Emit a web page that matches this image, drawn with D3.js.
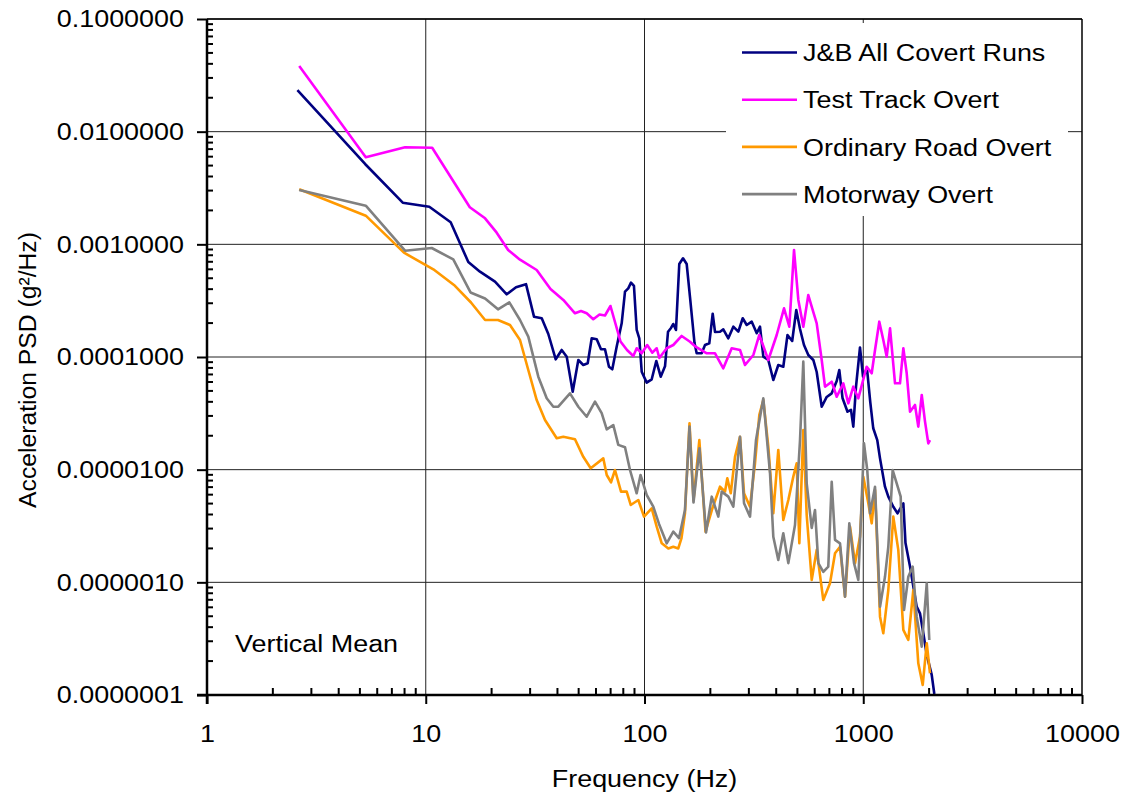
<!DOCTYPE html>
<html><head><meta charset="utf-8">
<script src="https://cdn.jsdelivr.net/npm/d3@7"></script>
<style>html,body{margin:0;padding:0;background:#fff;}svg{display:block;font-family:"Liberation Sans",Arial,sans-serif;}</style>
</head><body><svg id="c" width="1124" height="796"></svg>
<script>
const seriesNames = ["J&B All Covert Runs","Test Track Overt","Ordinary Road Overt","Motorway Overt"];
const seriesColors = ["#000080","#FF00FF","#FF9900","#808080"];
const yTickValues = [1e-7,1e-6,1e-5,1e-4,1e-3,1e-2,1e-1];
const xTickValues = [1,10,100,1000,10000];
const xLabel = "Frequency (Hz)";
const yLabel = "Acceleration PSD (g²/Hz)";
const note = "Vertical Mean";

const jbCovert = [[2.59,0.02343],[5.28,0.005165],[7.85,0.002342],[10.38,0.002158],[13.0,0.001569],[15.65,0.000697],[17.7,0.000572],[20.73,0.000466],[23.45,0.00036],[25.86,0.000416],[28.73,0.000443],[31.25,0.000228],[33.9,0.000221],[36.33,0.00016],[39.28,0.0000954],[41.83,0.0001154],[44.1,0.0001006],[46.97,0.0000492],[49.83,0.0000941],[52.5,0.0000849],[55.0,0.0000879],[57.37,0.0001466],[60.47,0.0001436],[63.25,0.000117],[65.97,0.000117],[68.8,0.000082],[71.25,0.0000778],[74.6,0.0001235],[78.65,0.000199],[81.45,0.00038],[84.3,0.000407],[86.75,0.000457],[89.5,0.000427],[92.1,0.0001737],[94.67,0.0001466],[97.1,0.0000741],[102.35,0.0000592],[107.9,0.0000634],[113.2,0.0000922],[118.6,0.0000669],[124.1,0.0000827],[128.1,0.0001677],[132.2,0.000181],[135.4,0.0001963],[139.3,0.0001737],[144.2,0.000669],[150.0,0.000752],[155.9,0.000669],[161.4,0.000341],[169.3,0.0001331],[173.2,0.0001079],[182.6,0.0001079],[189.1,0.0001278],[197.8,0.0001323],[205.0,0.000242],[210.1,0.0001667],[221.4,0.0001677],[229.2,0.000176],[241.6,0.0001466],[254.7,0.0001858],[268.5,0.0001677],[281.2,0.0002207],[293.3,0.0001924],[309.2,0.0002058],[325.9,0.0001624],[337.3,0.0001858],[349.3,0.0001006],[368.1,0.0000941],[388.0,0.0000625],[408.9,0.0000849],[431.0,0.000082],[450.5,0.0001568],[473.3,0.0001387],[494.1,0.0002614],[514.0,0.0001772],[535.9,0.0001278],[560.8,0.0001042],[591.1,0.0000941],[612.6,0.0000736],[645.8,0.0000362],[680.7,0.0000442],[717.5,0.0000476],[756.3,0.0000612],[777.2,0.0000767],[803.8,0.0000433],[847.3,0.0000327],[879.0,0.0000339],[900.6,0.0000241],[926.6,0.0000545],[966.3,0.0001215],[997.5,0.0000669],[1040,0.0000794],[1077,0.0000395],[1111,0.0000233],[1159,0.0000183],[1193,0.0000126],[1257,0.00000706],[1302,0.00000576],[1372,0.00000469],[1434,0.0000041],[1525,0.00000503],[1560,0.00000223],[1636,0.00000138],[1755,0.000000608],[1817,0.000000531],[1882,0.000000353],[1951,0.000000227],[2056,0.000000151],[2113,0.000000102]];

const testTrack = [[2.64,0.0383],[5.32,0.005923],[8.04,0.007265],[10.7,0.007205],[15.9,0.002132],[18.67,0.001702],[21.1,0.001269],[23.8,0.000891],[26.97,0.000731],[32.15,0.000592],[37.18,0.000401],[42.55,0.000321],[48.11,0.0002443],[51.25,0.000256],[54.43,0.0002443],[58.32,0.0002162],[62.27,0.0002384],[65.97,0.0002335],[69.9,0.0002836],[73.3,0.0002045],[77.67,0.0001373],[83.2,0.0001154],[88.9,0.0001021],[92.1,0.0001195],[97.1,0.0001079],[102.9,0.0001278],[108.6,0.0001092],[113.7,0.0001195],[116.9,0.000098],[126.3,0.0001195],[135.4,0.0001278],[147.9,0.0001537],[161.4,0.0001367],[171.9,0.0001227],[192.5,0.0001079],[210.1,0.0001079],[229.2,0.0000794],[250.4,0.0001195],[273.3,0.0001154],[288.1,0.0000849],[314.6,0.0001042],[334.9,0.0001568],[368.1,0.0000941],[402.1,0.0001568],[434.3,0.0002706],[459.2,0.0001858],[482.5,0.000891],[504.9,0.000321],[532.1,0.0001858],[560.8,0.000355],[581.2,0.0002797],[612.6,0.000199],[645.8,0.0000941],[668.6,0.0000545],[717.5,0.0000604],[756.3,0.0000444],[810.4,0.0000584],[854.6,0.0000388],[900.6,0.0000545],[949.3,0.000043],[994.3,0.0000604],[1037,0.000082],[1093,0.0000717],[1132,0.0001154],[1184,0.0002058],[1235,0.0001416],[1280,0.0001006],[1326,0.0001798],[1397,0.0000584],[1472,0.0000584],[1525,0.0001195],[1580,0.0000717],[1636,0.0000327],[1724,0.0000375],[1785,0.0000241],[1851,0.000046],[1916,0.0000267],[1983,0.0000171],[2019,0.0000183]];

const ordinaryRoad = [[2.64,0.003081],[5.32,0.001796],[7.95,0.000843],[10.83,0.0006],[13.46,0.000436],[16.1,0.0003047],[18.67,0.000213],[21.39,0.000213],[24.27,0.0001924],[26.97,0.0001416],[29.43,0.0000767],[32.15,0.0000415],[35.09,0.0000276],[39.69,0.000019],[42.55,0.0000196],[48.11,0.0000186],[52.5,0.000013],[56.77,0.0000103],[64.8,0.0000126],[67.2,0.00000897],[70.3,0.00000773],[73.3,0.00000993],[78.1,0.00000638],[82.9,0.00000638],[86.5,0.00000486],[93.7,0.00000538],[99.5,0.00000383],[107.9,0.00000454],[113.7,0.00000312],[119.9,0.00000222],[128.5,0.000002],[135.4,0.00000207],[142.7,0.000002],[147.6,0.00000247],[153.1,0.0000041],[160.6,0.0000258],[167.5,0.00000533],[178.1,0.0000183],[190.1,0.00000282],[204.6,0.00000457],[221.4,0.00000706],[233.3,0.00000638],[239.1,0.00000839],[247.9,0.00000617],[259.3,0.000013],[273.3,0.0000196],[285.1,0.00000617],[303.6,0.00000469],[320.0,0.0000114],[334.9,0.0000306],[349.3,0.0000415],[368.1,0.000016],[388.0,0.0000041],[408.9,0.00001496],[431.0,0.00000358],[454.5,0.00000538],[478.8,0.00000866],[496.3,0.0000114],[510.3,0.00000222],[532.1,0.0000225],[551.4,0.00000396],[581.2,0.00000105],[612.6,0.00000194],[656.6,0.000000697],[704.7,0.00000098],[743,0.00000181],[783.1,0.00000207],[825.4,0.000000746],[870,0.00000312],[917.1,0.00000148],[966.3,0.00000254],[1000.5,0.00000866],[1055,0.00000503],[1093,0.00000334],[1132,0.0000066],[1193,0.000000496],[1235,0.000000353],[1302,0.000000855],[1372,0.00000383],[1446,0.00000194],[1525,0.000000378],[1607,0.000000308],[1694,0.000000855],[1785,0.000000191],[1870,0.000000123],[1951,0.000000288],[2019,0.000000156]];

const motorway = [[2.64,0.003037],[5.32,0.002203],[8.04,0.000878],[10.65,0.000928],[13.36,0.000734],[16.02,0.000374],[18.67,0.000331],[21.39,0.000265],[24.1,0.000305],[26.97,0.000213],[29.43,0.0001515],[32.7,0.0000669],[35.72,0.000043],[38.3,0.0000362],[40.36,0.0000362],[45.64,0.0000476],[49.83,0.0000362],[54.43,0.0000295],[59.39,0.0000401],[63.72,0.0000317],[67.2,0.0000228],[72.0,0.0000249],[75.9,0.0000166],[81.45,0.0000158],[85.85,0.00000993],[92.1,0.00000617],[95.9,0.00000897],[102.35,0.00000596],[109.7,0.00000469],[116.5,0.0000033],[126.3,0.00000222],[135.4,0.00000282],[143.8,0.00000247],[153.1,0.00000439],[160.6,0.0000241],[167.5,0.00000511],[178.4,0.0000155],[191.1,0.00000277],[202.9,0.00000576],[217.5,0.00000383],[225.4,0.00000638],[241.6,0.00000576],[254.7,0.00000469],[273.3,0.0000196],[285.1,0.00000503],[303.6,0.00000383],[323.4,0.0000183],[349.3,0.000043],[374.8,0.00000929],[388.0,0.00000254],[408.9,0.00000158],[431.0,0.00000273],[454.5,0.00000148],[487.5,0.00000323],[514.0,0.0000183],[532.1,0.0000909],[551.4,0.00000757],[581.2,0.00000304],[601.8,0.00000439],[623.2,0.00000148],[656.6,0.00000124],[692.1,0.00000138],[717.5,0.00000782],[743,0.00000238],[783.1,0.00000222],[825.4,0.000000746],[863.6,0.00000334],[907.5,0.00000148],[949.3,0.00000105],[983.8,0.00000538],[1008,0.0000171],[1043,0.00000993],[1074,0.0000041],[1132,0.00000706],[1193,0.000000608],[1257,0.00000112],[1302,0.00000207],[1363,0.00000993],[1422,0.00000757],[1483,0.00000576],[1536,0.000000568],[1607,0.00000112],[1683,0.00000138],[1755,0.000000496],[1851,0.000000268],[1951,0.00000098],[2004,0.000000308]];

const allSeries = [jbCovert, testTrack, ordinaryRoad, motorway];

const svg = d3.select("#c");
const L = 207, R = 1082, T = 19, B = 695;
const x = d3.scaleLog().domain([1,10000]).range([L,R]);
const y = d3.scaleLog().domain([1e-7,0.1]).range([B,T]);
const SX = 1.09;
const FS = "24.7px";

// gridlines
const grid = svg.append("g");
grid.selectAll("line.h").data(yTickValues.slice(1)).join("line")
  .attr("x1",L).attr("x2",R).attr("y1",d=>y(d)).attr("y2",d=>y(d))
  .attr("stroke","#222").attr("stroke-width",1);
grid.selectAll("line.v").data(xTickValues.slice(1,-1)).join("line")
  .attr("y1",T).attr("y2",B).attr("x1",d=>x(d)).attr("x2",d=>x(d))
  .attr("stroke","#222").attr("stroke-width",1);

// border top/right
svg.append("line").attr("x1",L).attr("x2",R).attr("y1",T).attr("y2",T).attr("stroke","#000").attr("stroke-width",1.5);
svg.append("line").attr("x1",R).attr("x2",R).attr("y1",T).attr("y2",B).attr("stroke","#000").attr("stroke-width",1.5);

// series
const line = d3.line().x(d=>x(d[0])).y(d=>y(d[1]));
svg.append("g").selectAll("path").data(allSeries).join("path")
  .attr("d",line).attr("fill","none")
  .attr("stroke",(d,i)=>seriesColors[i]).attr("stroke-width",2.6)
  .attr("stroke-linejoin","round");

// minor ticks
const yMinor = [], xMinor = [];
for (let e=-7;e<-1;e++) for (let k=2;k<=9;k++) yMinor.push(k*Math.pow(10,e));
for (let e=0;e<4;e++) for (let k=2;k<=9;k++) xMinor.push(k*Math.pow(10,e));
svg.append("g").selectAll("line").data(yMinor).join("line")
  .attr("x1",L).attr("x2",L+6).attr("y1",d=>y(d)).attr("y2",d=>y(d))
  .attr("stroke","#000").attr("stroke-width",2);
svg.append("g").selectAll("line").data(xMinor).join("line")
  .attr("y1",B).attr("y2",B-7).attr("x1",d=>x(d)).attr("x2",d=>x(d))
  .attr("stroke","#000").attr("stroke-width",2);

// axes
const yAxis = d3.axisLeft(y).tickValues(yTickValues).tickSize(10).tickPadding(13).tickFormat(d=>d.toFixed(7));
const gy = svg.append("g").attr("transform",`translate(${L},0)`).call(yAxis);
const xAxis = d3.axisBottom(x).tickValues(xTickValues).tickSize(9).tickPadding(20).tickFormat(d3.format("d"));
const gx = svg.append("g").attr("transform",`translate(0,${B})`).call(xAxis);
[gx,gy].forEach(g=>{
  g.select(".domain").remove();
  g.selectAll(".tick line").attr("stroke","#000").attr("stroke-width",2);
  g.selectAll(".tick text").attr("fill","#000").style("font-size",FS).style("font-family",'"Liberation Sans",Arial,sans-serif');
});
gy.selectAll(".tick text").each(function(){
  const t=d3.select(this); const xx=+t.attr("x")||-23;
  t.attr("x",null).attr("transform",`translate(${xx},0) scale(${SX},1)`);
});
gx.selectAll(".tick text").each(function(){
  const t=d3.select(this); const yy=+t.attr("y");
  t.attr("y",null).attr("dy","0.71em").attr("transform",`translate(0,${yy}) scale(${SX},1)`);
});
svg.append("line").attr("x1",L-10).attr("x2",R).attr("y1",B).attr("y2",B).attr("stroke","#000").attr("stroke-width",2.5);
svg.append("line").attr("x1",L).attr("x2",L).attr("y1",T).attr("y2",B+9).attr("stroke","#000").attr("stroke-width",2.5);

// axis titles
svg.append("text").attr("transform",`translate(${(L+R)/2},787) scale(${SX},1)`).attr("text-anchor","middle")
  .style("font-size",FS).text(xLabel);
svg.append("text").attr("transform",`translate(36,370) rotate(-90)`).attr("text-anchor","middle")
  .style("font-size",FS).text(yLabel);
svg.append("text").attr("transform",`translate(235,652) scale(${SX},1)`).style("font-size",FS).text(note);

// legend
const lg = svg.append("g");
lg.append("rect").attr("x",726).attr("y",23).attr("width",342).attr("height",193).attr("fill","#fff");
const items = lg.selectAll("g").data(seriesNames).join("g")
  .attr("transform",(d,i)=>`translate(742,${52.5+i*47.2})`);
items.append("line").attr("x1",0).attr("x2",55).attr("stroke",(d,i)=>seriesColors[i]).attr("stroke-width",2.6);
items.append("text").attr("transform",`translate(61,8.7) scale(${SX},1)`).style("font-size",FS).text(d=>d);
</script></body></html>
